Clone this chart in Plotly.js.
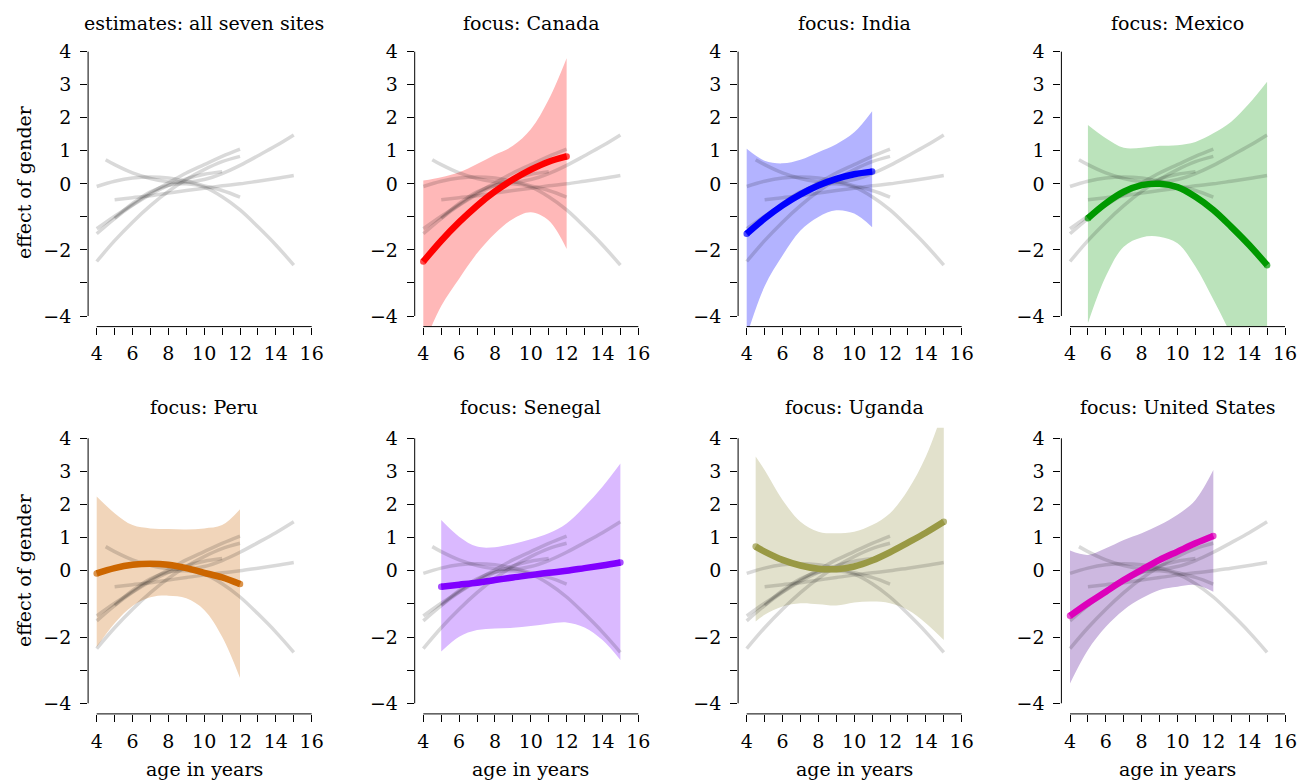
<!DOCTYPE html>
<html>
<head>
<meta charset="utf-8">
<script src="https://cdn.plot.ly/plotly-3.0.1.min.js"></script>
<style>html,body{margin:0;padding:0;background:#fff;}#chart{width:1299px;height:782px;}</style>
</head>
<body>
<div id="chart"></div>
<script>
// ---------- data ----------
const siteNames = ["Canada", "India", "Mexico", "Peru", "Senegal", "Uganda", "United States"];

const ages_canada = [4, 5, 6, 7, 8, 9, 10, 11, 12];
const est_canada  = [-2.35, -1.72, -1.16, -0.66, -0.23, 0.13, 0.43, 0.67, 0.83];
const up_canada   = [0.10, 0.20, 0.35, 0.60, 0.88, 1.15, 1.65, 2.55, 3.80];
const lo_canada   = [-4.9, -3.7, -2.87, -2.10, -1.50, -1.06, -0.86, -1.11, -1.97];

const ages_india = [4, 5, 6, 7, 8, 9, 10, 11];
const est_india  = [-1.51, -1.05, -0.65, -0.32, -0.05, 0.15, 0.29, 0.37];
const up_india   = [1.06, 0.70, 0.62, 0.73, 0.96, 1.20, 1.56, 2.20];
const lo_india   = [-4.6, -3.10, -2.17, -1.41, -1.00, -0.80, -0.90, -1.31];

const ages_mexico = [5, 6, 7, 8, 9, 10, 11, 12, 13, 14, 15];
const est_mexico  = [-1.04, -0.59, -0.24, -0.04, 0.00, -0.10, -0.39, -0.79, -1.30, -1.85, -2.46];
const up_mexico   = [1.78, 1.38, 1.09, 1.09, 1.15, 1.17, 1.27, 1.53, 1.88, 2.43, 3.09];
const lo_mexico   = [-4.22, -2.80, -1.90, -1.62, -1.60, -1.80, -2.50, -3.50, -4.6, -6.0, -7.5];

const ages_peru = [4, 5, 6, 7, 8, 9, 10, 11, 12];
const est_peru  = [-0.08, 0.08, 0.18, 0.21, 0.18, 0.08, -0.06, -0.20, -0.40];
const up_peru   = [2.24, 1.74, 1.38, 1.28, 1.26, 1.25, 1.28, 1.38, 1.86];
const lo_peru   = [-2.30, -1.58, -1.06, -0.80, -0.75, -0.83, -1.18, -1.99, -3.24];

const ages_senegal = [5, 6, 7, 8, 9, 10, 11, 12, 13, 14, 15];
const est_senegal  = [-0.48, -0.42, -0.36, -0.28, -0.20, -0.13, -0.06, 0.00, 0.08, 0.16, 0.25];
const up_senegal   = [1.53, 1.03, 0.73, 0.71, 0.81, 0.95, 1.13, 1.43, 1.94, 2.54, 3.24];
const lo_senegal   = [-2.44, -1.99, -1.79, -1.74, -1.72, -1.67, -1.60, -1.56, -1.71, -2.09, -2.69];

const ages_uganda = [4.5, 5, 6, 7, 8, 9, 10, 11, 12, 13, 14, 15];
const est_uganda  = [0.73, 0.58, 0.33, 0.16, 0.06, 0.05, 0.13, 0.31, 0.56, 0.85, 1.15, 1.48];
const up_uganda   = [3.45, 3.04, 2.14, 1.48, 1.18, 1.13, 1.18, 1.38, 1.74, 2.44, 3.45, 4.9];
const lo_uganda   = [-1.53, -1.33, -1.08, -0.98, -1.01, -1.05, -0.96, -0.93, -0.98, -1.18, -1.58, -2.09];

const ages_us = [4, 5, 6, 7, 8, 9, 10, 11, 12];
const est_us  = [-1.36, -0.98, -0.63, -0.28, 0.03, 0.33, 0.58, 0.83, 1.05];
const up_us   = [0.61, 0.48, 0.68, 0.93, 1.13, 1.38, 1.69, 2.14, 3.04];
const lo_us   = [-3.40, -2.39, -1.69, -1.18, -0.83, -0.58, -0.48, -0.43, -0.63];

const lineColors   = ["#FF0000", "#0000FF", "#009900", "#CC6600", "#8000FF", "#999944", "#DD00BB"];
const ribbonColors = ["#FFB8B8", "#B3B3FF", "#BBE3BB", "#F1D5BA", "#DAB9FF", "#E2E1CC", "#CDB8E0"];

const xTickVals = [4, 5, 6, 7, 8, 9, 10, 11, 12, 13, 14, 15, 16];
const xTickText = ["4", "", "6", "", "8", "", "10", "", "12", "", "14", "", "16"];
const yTickVals = [-4, -3, -2, -1, 0, 1, 2, 3, 4];
const yTickText = ["\u22124", "", "\u22122", "", "0", "1", "2", "3", "4"];

const panelTitles = ["estimates: all seven sites", "focus: Canada", "focus: India", "focus: Mexico",
                     "focus: Peru", "focus: Senegal", "focus: Uganda", "focus: United States"];
const xTitle = "age in years";
const yTitle = "effect of gender";

// ---------- build ----------
const sites = [
  {a: ages_canada, e: est_canada, u: up_canada, l: lo_canada},
  {a: ages_india, e: est_india, u: up_india, l: lo_india},
  {a: ages_mexico, e: est_mexico, u: up_mexico, l: lo_mexico},
  {a: ages_peru, e: est_peru, u: up_peru, l: lo_peru},
  {a: ages_senegal, e: est_senegal, u: up_senegal, l: lo_senegal},
  {a: ages_uganda, e: est_uganda, u: up_uganda, l: lo_uganda},
  {a: ages_us, e: est_us, u: up_us, l: lo_us}
];

const W = 1299, H = 782;
const colX = [[88.1, 320.3], [414.7, 646.9], [738.1, 970.3], [1061.4, 1293.6]];
const rowY = [[41.1, 326.6], [427.7, 713.9]];
const FONT = "DejaVu Serif";
const FS = 19;

const traces = [];
const layout = {
  width: W, height: H,
  margin: {l: 0, r: 0, t: 0, b: 0},
  paper_bgcolor: "#fff", plot_bgcolor: "rgba(0,0,0,0)",
  showlegend: false,
  font: {family: FONT, size: FS, color: "#000"},
  shapes: [], annotations: []
};

for (let p = 0; p < 8; p++) {
  const r = Math.floor(p / 4), c = p % 4;
  const xs = p === 0 ? "" : String(p + 1);
  const xa = "x" + xs, ya = "y" + xs;
  const xd = [colX[c][0] / W, colX[c][1] / W];
  const yd = [1 - rowY[r][1] / H, 1 - rowY[r][0] / H];

  layout["xaxis" + xs] = {
    domain: xd, range: [3.52, 16.48], anchor: ya,
    tickmode: "array", tickvals: xTickVals, ticktext: xTickText,
    ticks: "outside", ticklen: 7, tickwidth: 1, tickcolor: "#000",
    showgrid: false, zeroline: false, showline: false, fixedrange: true,
    tickfont: {family: FONT, size: FS, color: "#000"}, ticklabelstandoff: 3
  };
  layout["yaxis" + xs] = {
    domain: yd, range: [-4.32, 4.32], anchor: xa,
    tickmode: "array", tickvals: yTickVals, ticktext: yTickText,
    ticks: "outside", ticklen: 7, tickwidth: 1, tickcolor: "#000",
    showgrid: false, zeroline: false, showline: false, fixedrange: true,
    tickfont: {family: FONT, size: FS, color: "#000"}, ticklabelstandoff: 5
  };

  layout.shapes.push({type: "line", xref: xa, yref: ya + " domain", x0: 4, x1: 16, y0: 0, y1: 0,
                      line: {color: "#000", width: 1}});
  layout.shapes.push({type: "line", xref: xa + " domain", yref: ya, x0: 0, x1: 0, y0: -4, y1: 4,
                      line: {color: "#000", width: 1}});

  layout.annotations.push({text: panelTitles[p], xref: "paper", yref: "paper",
    x: (xd[0] + xd[1]) / 2, y: 1 - (r === 0 ? 23 : 407) / H, xanchor: "center", yanchor: "middle",
    showarrow: false, font: {family: FONT, size: FS, color: "#000"}});
  if (c === 0) {
    layout.annotations.push({text: yTitle, xref: "paper", yref: "paper", textangle: -90,
      x: 24 / W, y: 1 - (r === 0 ? 182 : 570) / H, xanchor: "center", yanchor: "middle",
      showarrow: false, font: {family: FONT, size: FS, color: "#000"}});
  }
  if (r === 1) {
    layout.annotations.push({text: xTitle, xref: "paper", yref: "paper",
      x: (xd[0] + xd[1]) / 2, y: 1 - 769 / H, xanchor: "center", yanchor: "middle",
      showarrow: false, font: {family: FONT, size: FS, color: "#000"}});
  }

  const f = p - 1;
  if (f >= 0) {
    const s = sites[f];
    traces.push({x: s.a, y: s.l, xaxis: xa, yaxis: ya, mode: "lines", type: "scatter",
      line: {width: 0, shape: "spline", color: ribbonColors[f]}, hoverinfo: "skip"});
    traces.push({x: s.a, y: s.u, xaxis: xa, yaxis: ya, mode: "lines", type: "scatter",
      fill: "tonexty", fillcolor: ribbonColors[f],
      line: {width: 0, shape: "spline", color: ribbonColors[f]}, hoverinfo: "skip"});
  }
  for (let k = 0; k < sites.length; k++) {
    traces.push({x: sites[k].a, y: sites[k].e, xaxis: xa, yaxis: ya, mode: "lines", type: "scatter",
      name: siteNames[k], line: {width: 3.5, shape: "spline", color: "rgba(0,0,0,0.15)"}});
  }
  if (f >= 0) {
    const n = sites[f].a.length;
    const capSizes = sites[f].a.map((_, i) => (i === 0 || i === n - 1) ? 6.5 : 0);
    traces.push({x: sites[f].a, y: sites[f].e, xaxis: xa, yaxis: ya, mode: "lines+markers", type: "scatter",
      name: siteNames[f], line: {width: 6.5, shape: "spline", color: lineColors[f]},
      marker: {size: capSizes, color: lineColors[f], line: {width: 0}}});
  }
}

Plotly.newPlot("chart", traces, layout, {staticPlot: true, displayModeBar: false});
</script>
</body>
</html>
